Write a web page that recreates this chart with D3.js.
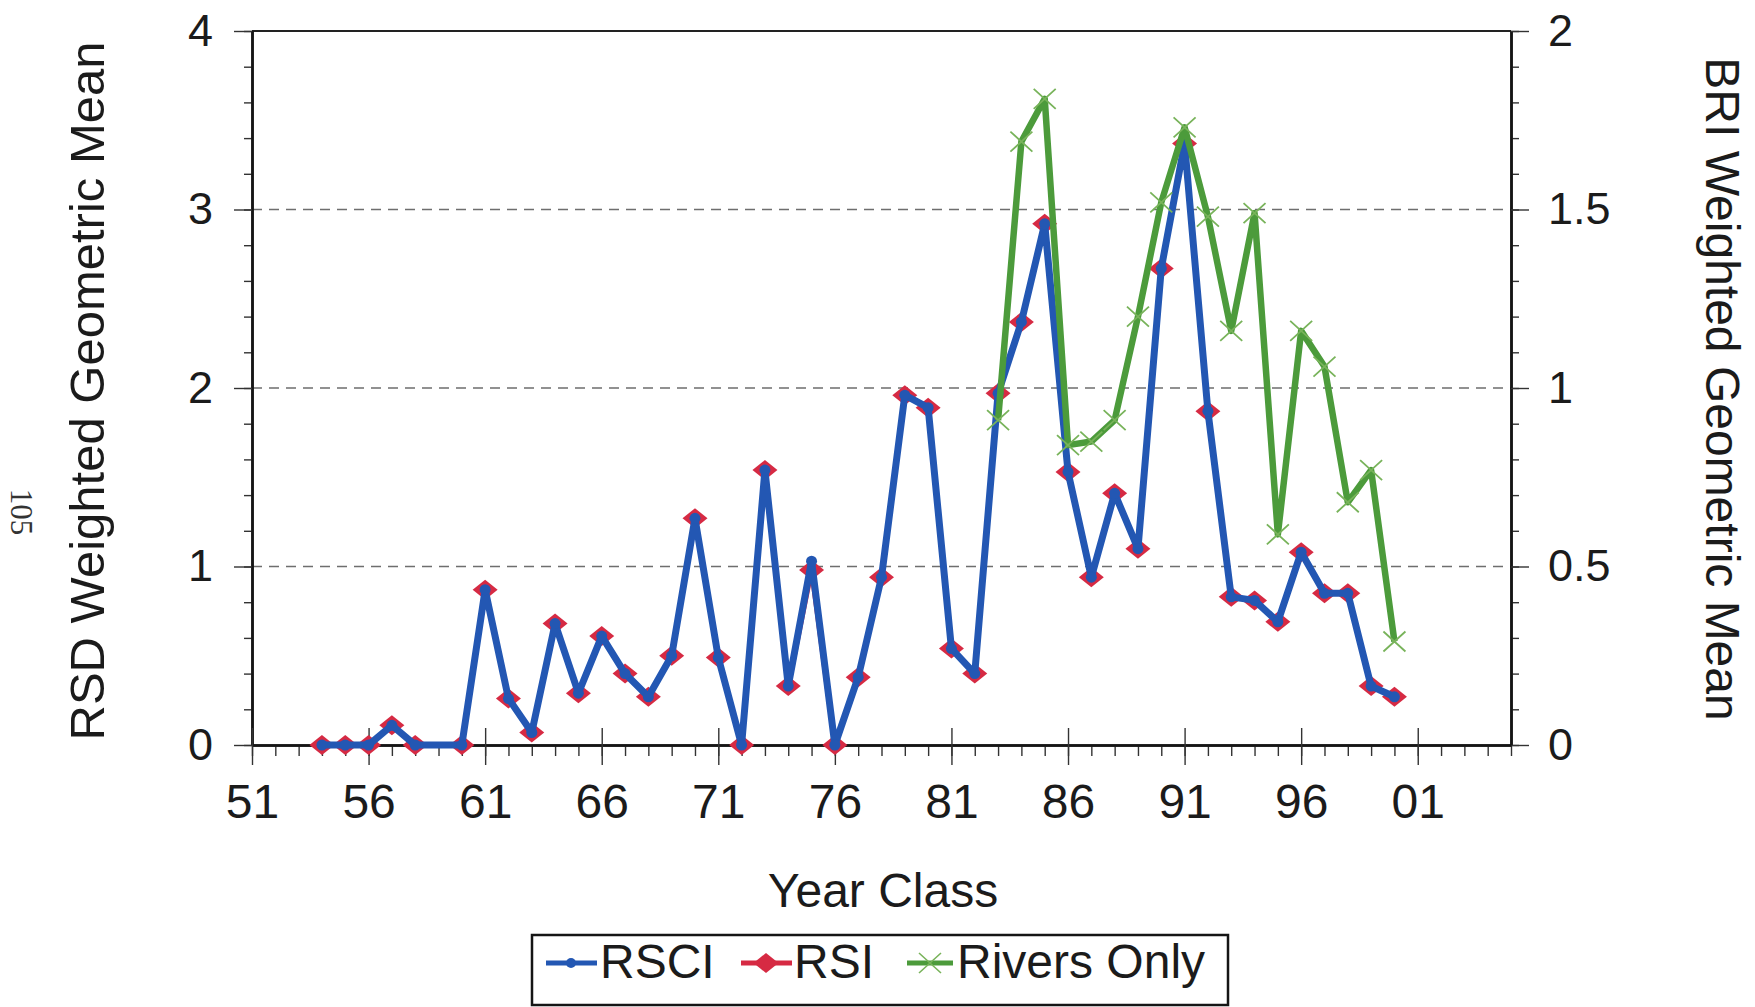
<!DOCTYPE html>
<html>
<head>
<meta charset="utf-8">
<script src="https://cdn.jsdelivr.net/npm/d3@7"></script>
<style>
  body { margin: 0; background: #fff; }
  text { font-family: "Liberation Sans", Arial, sans-serif; fill: #1b1b1b; }
</style>
</head>
<body>
<div id="chart"></div>
<script>
// year classes with RSD values (1959 has no value)
var years = [1954, 1955, 1956, 1957, 1958, 1960, 1961, 1962, 1963, 1964, 1965, 1966, 1967, 1968, 1969,
  1970, 1971, 1972, 1973, 1974, 1975, 1976, 1977, 1978, 1979, 1980, 1981, 1982, 1983, 1984, 1985,
  1986, 1987, 1988, 1989, 1990, 1991, 1992, 1993, 1994, 1995, 1996, 1997, 1998, 1999, 2000];
var rsci = [0, 0, 0, 0.11, 0, 0, 0.87, 0.26, 0.07, 0.68, 0.29, 0.61, 0.40, 0.27, 0.50,
  1.27, 0.49, 0, 1.54, 0.33, 1.03, 0, 0.38, 0.94, 1.96, 1.89, 0.54, 0.40, 1.97, 2.37, 2.92,
  1.53, 0.94, 1.41, 1.10, 2.67, 3.37, 1.87, 0.83, 0.81, 0.69, 1.08, 0.85, 0.85, 0.33, 0.27];
var rsi = [0, 0, 0, 0.11, 0, 0, 0.87, 0.26, 0.07, 0.68, 0.29, 0.61, 0.40, 0.27, 0.50,
  1.27, 0.49, 0, 1.54, 0.33, 0.98, 0, 0.38, 0.94, 1.96, 1.89, 0.54, 0.40, 1.97, 2.37, 2.92,
  1.53, 0.94, 1.41, 1.10, 2.67, 3.37, 1.87, 0.83, 0.81, 0.69, 1.08, 0.85, 0.85, 0.33, 0.27];

// BRI (right axis)
var riverYears = [1983, 1984, 1985, 1986, 1987, 1988, 1989, 1990, 1991, 1992, 1993, 1994, 1995, 1996, 1997, 1998, 1999, 2000];
var riversOnly = [0.91, 1.69, 1.81, 0.84, 0.85, 0.91, 1.20, 1.52, 1.73, 1.48, 1.16, 1.49, 0.59, 1.16, 1.06, 0.68, 0.77, 0.29];

var xTickYears = [1951, 1956, 1961, 1966, 1971, 1976, 1981, 1986, 1991, 1996, 2001];
var xTickLabels = ["51", "56", "61", "66", "71", "76", "81", "86", "91", "96", "01"];
var leftTicks = [0, 1, 2, 3, 4];
var leftTickLabels = ["0", "1", "2", "3", "4"];
var rightTicks = [0, 0.5, 1, 1.5, 2];
var rightTickLabels = ["0", "0.5", "1", "1.5", "2"];

var width = 1755, height = 1007;
var plotLeft = 252, plotRight = 1511, plotTop = 31, plotBottom = 745;

var blue = "#2357b3", red = "#d62a43", green = "#4c9b3b", greenMark = "#78b35a";

var svg = d3.select("#chart").append("svg")
  .attr("width", width)
  .attr("height", height)
  .style("background", "#fff");

var x = d3.scaleLinear().domain([1951, 2005]).range([plotLeft, plotRight]);
var yL = d3.scaleLinear().domain([0, 4]).range([plotBottom, plotTop]);
var yR = d3.scaleLinear().domain([0, 2]).range([plotBottom, plotTop]);

// dashed grid
svg.selectAll("line.grid")
  .data([1, 2, 3])
  .enter().append("line")
  .attr("class", "grid")
  .attr("x1", plotLeft).attr("x2", plotRight)
  .attr("y1", function (d) { return yL(d); })
  .attr("y2", function (d) { return yL(d); })
  .style("stroke", "#6e6e6e")
  .style("stroke-width", 1.5)
  .style("stroke-dasharray", "10,7");

// top frame line
svg.append("line")
  .attr("x1", plotLeft).attr("x2", plotRight)
  .attr("y1", plotTop).attr("y2", plotTop)
  .style("stroke", "#222").style("stroke-width", 2);

function styleAxis(g) {
  g.select(".domain").style("stroke", "#151515").style("stroke-width", 2.5);
  g.selectAll(".tick line").style("stroke", "#333").style("stroke-width", 1.4);
}

// left axis minor + major
svg.append("g")
  .attr("transform", "translate(" + plotLeft + ",0)")
  .call(d3.axisLeft(yL).tickValues(d3.range(0, 4.01, 0.2)).tickSize(8).tickSizeOuter(0).tickFormat(""))
  .call(styleAxis);
svg.append("g")
  .attr("transform", "translate(" + plotLeft + ",0)")
  .call(d3.axisLeft(yL).tickValues(leftTicks).tickSize(18).tickSizeOuter(0).tickPadding(21)
    .tickFormat(function (d, i) { return leftTickLabels[i]; }))
  .call(styleAxis)
  .selectAll("text").style("font-size", "45px").style("fill", "#1b1b1b");

// right axis minor + major
svg.append("g")
  .attr("transform", "translate(" + plotRight + ",0)")
  .call(d3.axisRight(yR).tickValues(d3.range(0, 2.001, 0.1)).tickSize(8).tickSizeOuter(0).tickFormat(""))
  .call(styleAxis);
svg.append("g")
  .attr("transform", "translate(" + plotRight + ",0)")
  .call(d3.axisRight(yR).tickValues(rightTicks).tickSize(18).tickSizeOuter(0).tickPadding(19)
    .tickFormat(function (d, i) { return rightTickLabels[i]; }))
  .call(styleAxis)
  .selectAll("text").style("font-size", "45px").style("fill", "#1b1b1b");

// bottom axis minor + major
svg.append("g")
  .attr("transform", "translate(0," + plotBottom + ")")
  .call(d3.axisBottom(x).tickValues(d3.range(1951, 2006)).tickSize(11).tickSizeOuter(0).tickFormat(""))
  .call(styleAxis);
var xMajor = svg.append("g")
  .attr("transform", "translate(0," + plotBottom + ")")
  .call(d3.axisBottom(x).tickValues(xTickYears).tickSize(20).tickSizeOuter(0)
    .tickFormat(function (d, i) { return xTickLabels[i]; }))
  .call(styleAxis);
xMajor.selectAll(".tick line").attr("y1", -17);
xMajor.selectAll("text")
  .attr("y", 73).attr("dy", 0)
  .style("font-size", "48px").style("fill", "#1b1b1b");

// series
var lineL = d3.line()
  .x(function (d) { return x(d[0]); })
  .y(function (d) { return yL(d[1]); });
var lineR = d3.line()
  .x(function (d) { return x(d[0]); })
  .y(function (d) { return yR(d[1]); });

var rsiPts = years.map(function (yr, i) { return [yr, rsi[i]]; });
var rsciPts = years.map(function (yr, i) { return [yr, rsci[i]]; });
var riverPts = riverYears.map(function (yr, i) { return [yr, riversOnly[i]]; });

var diamond = "M0,-10L12.5,0L0,10L-12.5,0Z";

svg.append("path").datum(rsiPts)
  .attr("d", lineL)
  .style("fill", "none").style("stroke", red).style("stroke-width", 5).style("stroke-linejoin", "round");
svg.selectAll("path.rsi")
  .data(rsiPts)
  .enter().append("path")
  .attr("class", "rsi")
  .attr("d", diamond)
  .attr("transform", function (d) { return "translate(" + x(d[0]) + "," + yL(d[1]) + ")"; })
  .style("fill", red);

svg.append("path").datum(rsciPts)
  .attr("d", lineL)
  .style("fill", "none").style("stroke", blue).style("stroke-width", 7).style("stroke-linejoin", "round");
svg.selectAll("circle.rsci")
  .data(rsciPts)
  .enter().append("circle")
  .attr("class", "rsci")
  .attr("cx", function (d) { return x(d[0]); })
  .attr("cy", function (d) { return yL(d[1]); })
  .attr("r", 5.5)
  .style("fill", blue);

svg.append("path").datum(riverPts)
  .attr("d", lineR)
  .style("fill", "none").style("stroke", green).style("stroke-width", 6.5).style("stroke-linejoin", "round");
svg.selectAll("path.riv")
  .data(riverPts)
  .enter().append("path")
  .attr("class", "riv")
  .attr("d", "M-11,-10L11,10M-11,10L11,-10")
  .attr("transform", function (d) { return "translate(" + x(d[0]) + "," + yR(d[1]) + ")"; })
  .style("stroke", greenMark).style("stroke-width", 1.8).style("fill", "none");

// axis titles
svg.append("text")
  .attr("transform", "translate(104,391) rotate(-90)")
  .attr("text-anchor", "middle")
  .style("font-size", "49px")
  .text("RSD Weighted Geometric Mean");
svg.append("text")
  .attr("transform", "translate(1706,389) rotate(90)")
  .attr("text-anchor", "middle")
  .style("font-size", "48px")
  .text("BRI Weighted Geometric Mean");
svg.append("text")
  .attr("x", 883).attr("y", 907)
  .attr("text-anchor", "middle")
  .style("font-size", "48px")
  .text("Year Class");

// page number from the scan
svg.append("text")
  .attr("transform", "translate(11,512) rotate(90)")
  .attr("text-anchor", "middle")
  .style("font-family", "'Liberation Serif', serif")
  .style("font-size", "31px")
  .style("fill", "#333")
  .text("105");

// legend
svg.append("rect")
  .attr("x", 532).attr("y", 935)
  .attr("width", 696).attr("height", 70)
  .style("fill", "none").style("stroke", "#151515").style("stroke-width", 2.5);

var lg = svg.append("g");
lg.append("line").attr("x1", 546).attr("x2", 597).attr("y1", 963).attr("y2", 963)
  .style("stroke", blue).style("stroke-width", 5);
lg.append("circle").attr("cx", 571).attr("cy", 963).attr("r", 5).style("fill", blue);
lg.append("text").attr("x", 600).attr("y", 978).style("font-size", "48px").text("RSCI");

lg.append("line").attr("x1", 741).attr("x2", 792).attr("y1", 963).attr("y2", 963)
  .style("stroke", red).style("stroke-width", 5);
lg.append("path").attr("d", diamond).attr("transform", "translate(766,963)").style("fill", red);
lg.append("text").attr("x", 794).attr("y", 978).style("font-size", "48px").text("RSI");

lg.append("line").attr("x1", 907).attr("x2", 953).attr("y1", 963).attr("y2", 963)
  .style("stroke", green).style("stroke-width", 5);
lg.append("path").attr("d", "M-11,-10L11,10M-11,10L11,-10").attr("transform", "translate(930,963)")
  .style("stroke", greenMark).style("stroke-width", 1.6);
lg.append("text").attr("x", 957).attr("y", 978).style("font-size", "48px").text("Rivers Only");
</script>
</body>
</html>
